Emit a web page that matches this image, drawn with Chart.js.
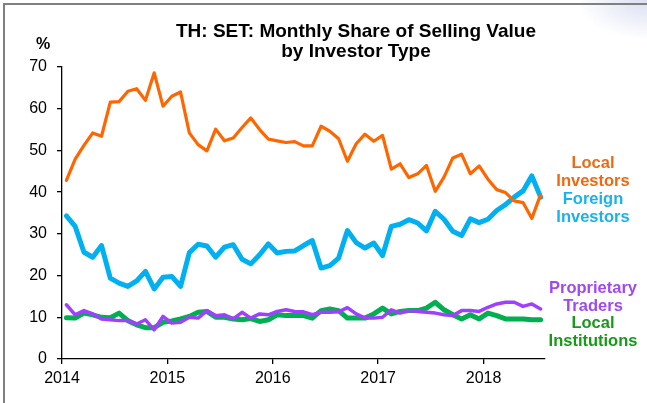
<!DOCTYPE html>
<html lang="en">
<head>
    <meta charset="UTF-8">
    <title>TH: SET: Monthly Share of Selling Value by Investor Type</title>
    <script src="https://cdn.jsdelivr.net/npm/chart.js"></script>
    <style>
        html, body { margin: 0; padding: 0; background: #fff; }
        body { width: 647px; height: 403px; position: relative; overflow: hidden;
               font-family: "Liberation Sans", Arial, sans-serif; }
        .frame { position: absolute; left: 3px; top: 3px; width: 700px; height: 500px;
                 border-left: 2px solid #808080; border-top: 2px solid #808080; }
        .glow { position: absolute; right: 0; top: 0; width: 70px; height: 40px;
                background: radial-gradient(ellipse at top right, rgba(215,220,240,0.9), rgba(255,255,255,0) 70%); }
        .chart-container { position: absolute; left: 0; top: 0; width: 647px; height: 403px; }
        .txt { position: absolute; font-weight: bold; text-align: center; white-space: nowrap; }
        #title { left: 156px; width: 400px; top: 21px; font-size: 19px; line-height: 20px; color: #000; }
        #pct { left: 36px; top: 35px; font-size: 16px; color: #000; }
        .lbl { width: 110px; left: 538px; font-size: 16.5px; line-height: 18px; }
    </style>
</head>
<body>
    <div class="glow"></div>
    <div class="frame"></div>
    <div class="chart-container">
        <canvas id="shareChart" width="647" height="403"></canvas>
    </div>
    <div id="title" class="txt">TH: SET: Monthly Share of Selling Value<br>by Investor Type</div>
    <div id="pct" class="txt">%</div>
    <div class="txt lbl" style="top:153px;color:#EE6A12">Local<br>Investors</div>
    <div class="txt lbl" style="top:189px;color:#19B2EE">Foreign<br>Investors</div>
    <div class="txt lbl" style="top:278px;color:#A048F6">Proprietary<br>Traders</div>
    <div class="txt lbl" style="top:313px;color:#179A17">Local<br>Institutions</div>

    <script>
        // monthly data, Jan 2014 .. Jul 2018 (%)
        const startYear = 2014;
        const yearTicks = [2014, 2015, 2016, 2017, 2018];

        const localInvestors = [42.8, 47.9, 51.2, 54.2, 53.4, 61.6, 61.7, 64.2, 64.8, 62.0, 68.6, 60.6,
            63.0, 64.0, 54.2, 51.4, 49.9, 55.1, 52.3, 53.0, 55.5, 57.8, 55.0, 52.7,
            52.3, 51.9, 52.1, 51.1, 51.1, 55.8, 54.6, 52.8, 47.4, 51.6, 53.9, 52.2,
            53.6, 45.5, 46.8, 43.5, 44.4, 46.4, 40.2, 43.6, 48.2, 49.1, 44.4, 46.3,
            43.1, 40.6, 39.9, 37.9, 37.5, 33.7, 39.4];

        const foreignInvestors = [34.3, 31.8, 25.6, 24.4, 27.2, 19.4, 18.2, 17.4, 18.7, 21.0, 16.8, 19.6,
            19.8, 17.4, 25.5, 27.5, 27.1, 24.4, 26.8, 27.4, 23.9, 22.8, 25.0, 27.6,
            25.4, 25.8, 25.9, 27.2, 28.4, 21.8, 22.4, 24.2, 30.8, 27.9, 26.6, 27.8,
            24.8, 31.8, 32.3, 33.4, 32.6, 30.7, 35.4, 33.5, 30.6, 29.6, 33.6, 32.7,
            33.5, 35.6, 37.0, 38.8, 40.3, 43.9, 38.8];

        const propTraders = [13.0, 10.6, 11.6, 10.8, 9.6, 9.4, 9.2, 9.2, 8.4, 9.4, 7.0, 10.2,
            8.6, 8.8, 10.0, 9.8, 11.6, 10.4, 10.6, 9.6, 11.2, 9.8, 10.8, 10.6,
            11.4, 11.8, 11.4, 11.3, 10.6, 11.2, 11.2, 11.3, 12.3, 10.8, 9.8, 9.8,
            10.0, 11.8, 11.0, 11.6, 11.4, 11.2, 11.0, 10.6, 10.4, 11.6, 11.6, 11.4,
            12.4, 13.2, 13.6, 13.6, 12.6, 13.2, 12.0];

        const localInstitutions = [9.9, 9.8, 11.0, 10.6, 10.0, 9.9, 11.0, 9.2, 8.2, 7.5, 7.5, 8.8,
            9.1, 9.6, 10.2, 11.2, 11.4, 10.0, 10.0, 9.6, 9.4, 9.7, 9.0, 9.4,
            10.6, 10.4, 10.4, 10.4, 9.8, 11.6, 12.0, 11.6, 9.8, 9.8, 9.8, 10.8,
            12.2, 10.8, 11.4, 11.6, 11.6, 12.2, 13.6, 11.8, 10.6, 9.6, 10.6, 9.6,
            11.0, 10.4, 9.6, 9.6, 9.6, 9.4, 9.4];

        // points sit in the middle of each month
        const toPoints = arr => arr.map((v, i) => ({ x: startYear + (i + 0.5) / 12, y: v }));
        const xMax = startYear + localInvestors.length / 12;

        const line = (data, color, width, order) => ({
            data: toPoints(data),
            borderColor: color,
            borderWidth: width,
            pointRadius: 0,
            tension: 0,
            borderJoinStyle: 'round',
            borderCapStyle: 'round',
            order: order
        });

        const axisFont = { family: '"Liberation Sans", Arial, sans-serif', size: 16 };

        new Chart(document.getElementById('shareChart').getContext('2d'), {
            type: 'line',
            data: {
                datasets: [
                    line(localInvestors, '#FF6600', 3.2, 1),
                    line(foreignInvestors, '#00B0F0', 5, 2),
                    line(propTraders, '#9F3FFF', 3.5, 3),
                    line(localInstitutions, '#00B050', 5, 4)
                ]
            },
            options: {
                responsive: false,
                animation: false,
                layout: { padding: { top: 67, right: 102, left: 0, bottom: 0 } },
                plugins: { legend: { display: false }, tooltip: { enabled: false } },
                scales: {
                    x: {
                        type: 'linear',
                        min: startYear,
                        max: xMax,
                        afterBuildTicks: s => { s.ticks = yearTicks.map(v => ({ value: v })); },
                        afterFit: s => { s.height = 44; },
                        border: { display: true, color: '#000', width: 1.3 },
                        grid: { drawOnChartArea: false, drawTicks: true, tickLength: 5, color: '#000', lineWidth: 1.3 },
                        ticks: { color: '#000', font: axisFont, padding: 5, maxRotation: 0,
                                 callback: v => String(v) }
                    },
                    y: {
                        min: 0,
                        max: 70,
                        afterFit: s => { s.width = 62; },
                        border: { display: true, color: '#000', width: 1.3 },
                        grid: { drawOnChartArea: false, drawTicks: true, tickLength: 5, color: '#000', lineWidth: 1.3 },
                        ticks: { stepSize: 10, color: '#000', font: axisFont, padding: 10 }
                    }
                }
            }
        });
    </script>
</body>
</html>
